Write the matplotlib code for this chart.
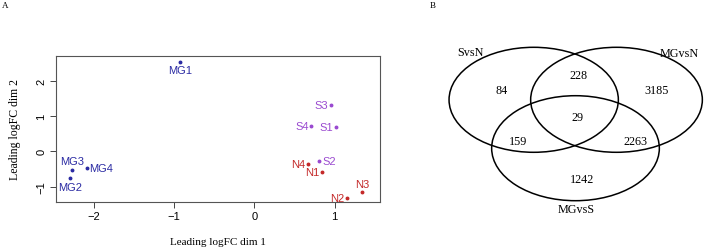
import matplotlib
matplotlib.use("Agg")
import matplotlib.pyplot as plt
from matplotlib.patches import Ellipse

# MDS points
samples = ["MG1", "MG2", "MG3", "MG4", "S1", "S2", "S3", "S4", "N1", "N2", "N3", "N4"]
dim1 = [-0.93, -2.30, -2.27, -2.09, 1.02, 0.81, 0.95, 0.71, 0.84, 1.16, 1.34, 0.67]
dim2 = [2.55, -0.76, -0.52, -0.47, 0.69, -0.28, 1.32, 0.72, -0.60, -1.33, -1.16, -0.35]
groups = ["MG"] * 4 + ["S"] * 4 + ["N"] * 4
# where the label sits relative to the point
label_side = ["below", "below", "above", "right", "left", "right", "left", "left",
              "left", "left", "above", "left"]

# Venn counts
venn_sets = ["SvsN", "MGvsN", "MGvsS"]
venn_counts = {"S": 84, "MGN": 3185, "MGS": 1242, "S&MGN": 228,
               "S&MGS": 159, "MGN&MGS": 2263, "all": 29}

colors = {"MG": "#2b2ba3", "S": "#9a4ad0", "N": "#c42a2a"}
sans = "Liberation Sans"
serif = "Liberation Serif"

fig = plt.figure(figsize=(7.09, 2.51), dpi=100)

# ---- panel A
ax = fig.add_axes([56 / 709, 1 - 202.7 / 251, 324 / 709, 145.4 / 251])
ax.set_xlim(-2.47, 1.565)
ax.set_ylim(-1.43, 2.70)
for name, x, y, g, side in zip(samples, dim1, dim2, groups, label_side):
    c = colors[g]
    ax.plot(x, y, "o", ms=1.8, color=c)
    off = {"below": (0, -2.5, "center", "top"), "above": (0, 2.5, "center", "bottom"),
           "left": (-2, 0, "right", "center"), "right": (2, 0, "left", "center")}[side]
    ax.annotate(name, (x, y), xytext=off[:2], textcoords="offset points",
                ha=off[2], va=off[3], color=c, fontsize=8, family=sans)
ax.set_xticks([-2, -1, 0, 1])
ax.set_yticks([-1, 0, 1, 2])
ax.tick_params(labelsize=8, length=4, width=0.7, color="#444444", pad=3)
for lab in ax.get_xticklabels() + ax.get_yticklabels():
    lab.set_family(sans)
plt.setp(ax.get_yticklabels(), rotation=90, va="center")
for s in ax.spines.values():
    s.set_linewidth(0.8)
    s.set_color("#555555")
ax.set_xlabel("Leading logFC dim 1", family=serif, fontsize=8, labelpad=11)
ax.set_ylabel("Leading logFC dim 2", family=serif, fontsize=8.5, labelpad=11)
fig.text(2 / 709, 1 - 6 / 251, "A", family=serif, fontsize=6.5, va="center")

# ---- panel B, drawn in pixel coordinates
bx = fig.add_axes([380 / 709, 0, 329 / 709, 1])
bx.set_xlim(380, 709)
bx.set_ylim(251, 0)
bx.axis("off")
ellipses = [(533.7, 100.8, 169.3, 105), (616.5, 100.8, 171.7, 105), (575.5, 149.2, 167.7, 105)]
for cx, cy, w, h in ellipses:
    bx.add_patch(Ellipse((cx, cy), w, h, fill=False, lw=1.1, color="black"))
set_pos = [(470, 53.5), (679, 54), (576, 210)]
for name, (x, y) in zip(venn_sets, set_pos):
    bx.text(x, y, name, ha="center", va="center", family=serif, fontsize=8.7)
count_pos = {"S": (501.3, 90.7), "MGN": (656.3, 90.7), "MGS": (581.7, 180),
             "S&MGN": (578.3, 76), "S&MGS": (517.7, 141.7), "MGN&MGS": (635, 141.7),
             "all": (577.3, 118.3)}
for k, v in venn_counts.items():
    x, y = count_pos[k]
    bx.text(x, y, str(v), ha="center", va="center", family=serif, fontsize=8.7)
fig.text(430 / 709, 1 - 6.5 / 251, "B", family=serif, fontsize=6.5, va="center")

fig.savefig("out.png", dpi=100)
